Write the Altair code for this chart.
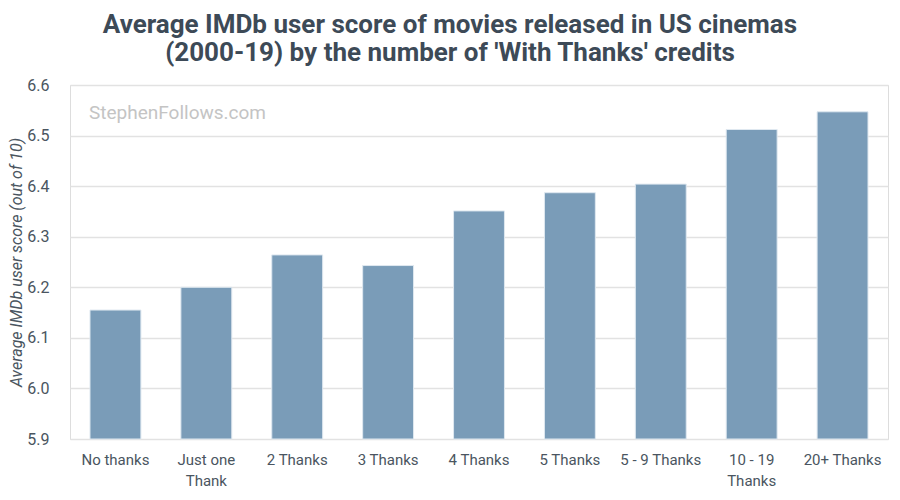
import altair as alt
import pandas as pd

categories = ["No thanks", "Just one\nThank", "2 Thanks", "3 Thanks", "4 Thanks",
              "5 Thanks", "5 - 9 Thanks", "10 - 19\nThanks", "20+ Thanks"]
scores = [6.155, 6.200, 6.264, 6.243, 6.351, 6.387, 6.404, 6.512, 6.547]
y_ticks = [5.9, 6.0, 6.1, 6.2, 6.3, 6.4, 6.5, 6.6]

df = pd.DataFrame({"cat": categories, "score": scores})

FONT = "Roboto"
TXT = "#4a5560"

bars = alt.Chart(df).mark_bar(color="#7a9cb8", stroke="#dfe8f0", strokeWidth=1).encode(
    x=alt.X("cat:N", sort=categories, title=None,
            scale=alt.Scale(paddingInner=0.44, paddingOuter=0.22),
            axis=alt.Axis(labelAngle=0, labelExpr="split(datum.label, '\\n')",
                          labelFontSize=15, labelColor=TXT, labelFont=FONT,
                          labelPadding=13, ticks=False, domain=False,
                          labelLineHeight=21)),
    y=alt.Y("score:Q", title="Average IMDb user score (out of 10)",
            scale=alt.Scale(domain=[5.9, 6.6], nice=False, zero=False, clamp=True),
            axis=alt.Axis(values=y_ticks, format=".1f", labelFontSize=16,
                          labelColor=TXT, labelFont=FONT, labelPadding=21,
                          ticks=False, domain=False, gridColor="#e2e2e2",
                          gridWidth=1.5, titleFont=FONT, titleFontSize=16,
                          titleFontStyle="italic", titleFontWeight="normal",
                          titleColor=TXT, titlePadding=2)),
)

watermark = alt.Chart(pd.DataFrame({"t": ["StephenFollows.com"]})).mark_text(
    align="left", baseline="middle", font=FONT, fontSize=19, color="#c4c4c4"
).encode(x=alt.value(19), y=alt.value(28), text="t:N")

chart = (bars + watermark).properties(
    width=818, height=354,
    title=alt.TitleParams(
        ["Average IMDb user score of movies released in US cinemas",
         "(2000-19) by the number of 'With Thanks' credits"],
        font=FONT, fontSize=26, fontWeight="bold", color="#3d4a57",
        anchor="middle", dx=-29, offset=11, lineHeight=28),
    autosize=alt.AutoSizeParams(type="none"),
    padding={"left": 62, "top": 77, "right": 4, "bottom": 56},
).configure_view(stroke=None).configure(background="white")

chart.save("out.html", embed_options={"renderer": "svg", "actions": False})
